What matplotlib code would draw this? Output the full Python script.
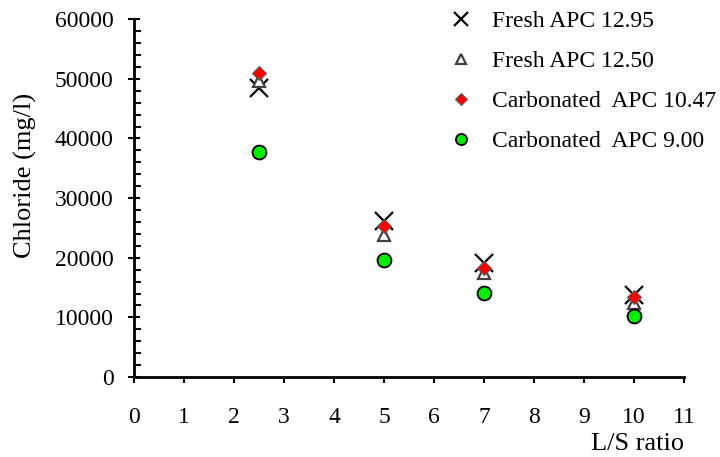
import matplotlib
matplotlib.use('Agg')
import matplotlib.pyplot as plt
from matplotlib.ticker import MultipleLocator

plt.rcParams['font.family'] = ['Liberation Serif', 'DejaVu Serif']

ls_ratio = [2.5, 5, 7, 10]
fresh_1295 = [48500, 26200, 19200, 13800]
fresh_1250 = [49600, 23800, 17400, 12400]
carb_1047 = [50900, 25300, 18300, 13500]
carb_900 = [37700, 19700, 14100, 10200]

labels = ['Fresh APC 12.95', 'Fresh APC 12.50',
          'Carbonated  APC 10.47', 'Carbonated  APC 9.00']

fig = plt.figure(figsize=(7.2, 4.57), dpi=100)
ax = fig.add_axes([0.186, 0.175, 0.764, 0.783])

ax.plot(ls_ratio, fresh_1295, 'x', color='black', ms=13, mew=1.6,
        label=labels[0], linestyle='none')
ax.plot(ls_ratio, fresh_1250, '^', color='#404040', mfc='white', ms=9,
        mew=1.6, label=labels[1], linestyle='none')
ax.plot(ls_ratio, carb_1047, 'D', mfc='#ff0000', mec='#606060', ms=7.5,
        mew=0.8, label=labels[2], linestyle='none')
ax.plot(ls_ratio, carb_900, 'o', mfc='#00ee00', mec='black', ms=10,
        mew=1.3, label=labels[3], linestyle='none')

ax.set_xlim(0, 11)
ax.set_ylim(0, 60000)
ax.xaxis.set_major_locator(MultipleLocator(1))
ax.yaxis.set_major_locator(MultipleLocator(10000))
ax.yaxis.set_minor_locator(MultipleLocator(2000))

ax.spines['top'].set_visible(False)
ax.spines['right'].set_visible(False)
for s in ['left', 'bottom']:
    ax.spines[s].set_linewidth(2)
ax.tick_params(axis='x', direction='out', length=4.5, width=1.5,
               labelsize=17, pad=17)
ax.tick_params(axis='y', which='major', direction='inout', length=9,
               width=1.5, labelsize=17, pad=10)
ax.tick_params(axis='y', which='minor', direction='in', length=5, width=1.5)

ax.set_ylabel('Chloride (mg/l)', fontsize=19)
ax.yaxis.set_label_coords(-0.176, 0.563)
ax.set_xlabel('L/S ratio', fontsize=19, loc='right', labelpad=4)

ax.legend(loc='upper left', bbox_to_anchor=(0.621, 0.977),
          bbox_transform=fig.transFigure, frameon=False, fontsize=17,
          markerscale=0.8, labelspacing=0.78, handletextpad=0.72,
          handlelength=1.2, borderpad=0, borderaxespad=0)

fig.savefig('out.png', dpi=100)
